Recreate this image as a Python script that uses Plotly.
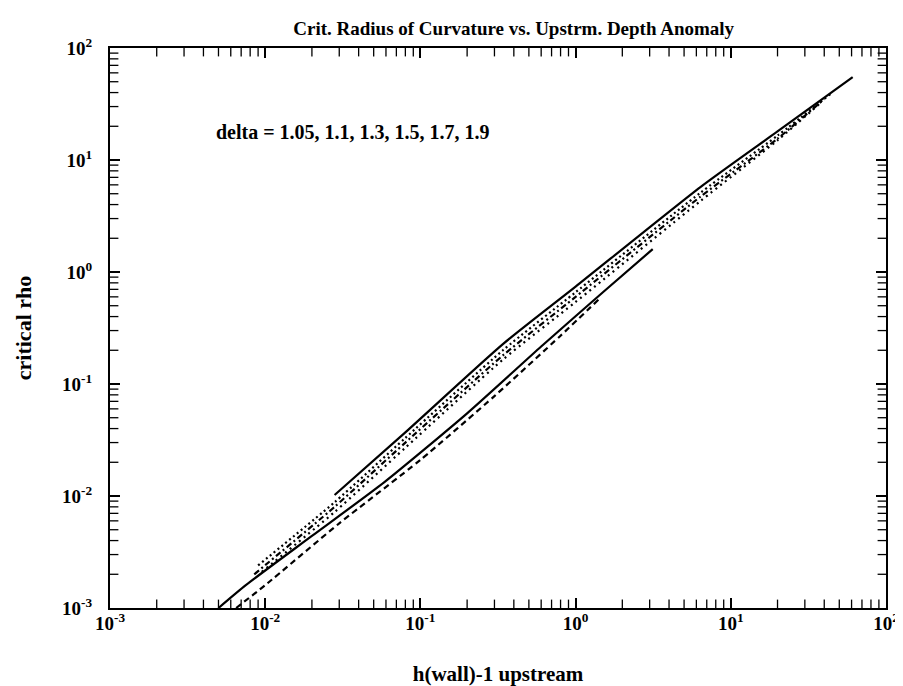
import plotly.graph_objects as go

# delta = 1.05 (lower solid)
x_d105 = [0.005, 0.0075, 0.02, 0.0586, 0.2, 0.6, 1.5, 3.14]
y_d105 = [0.001, 0.0016, 0.0044, 0.0133, 0.0547, 0.216, 0.66, 1.6]
# delta = 1.1 (lower dashed)
x_d11 = [0.0065, 0.01, 0.03, 0.1, 0.3, 0.8, 1.43]
y_d11 = [0.001, 0.0016, 0.0057, 0.021, 0.078, 0.27, 0.58]
# delta = 1.3
x_d13 = [0.0095, 0.028, 0.08, 0.34, 1.0, 6.37, 20, 38]
y_d13 = [0.0021, 0.0072, 0.027, 0.165, 0.54, 4.3, 15.0, 32.5]
# delta = 1.5
x_d15 = [0.0085, 0.028, 0.08, 0.34, 1.0, 6.37, 20, 40]
y_d15 = [0.0020, 0.0080, 0.030, 0.18, 0.60, 4.7, 15.5, 35]
# delta = 1.7
x_d17 = [0.009, 0.028, 0.08, 0.34, 1.0, 6.37, 20, 45]
y_d17 = [0.0024, 0.0088, 0.033, 0.20, 0.66, 5.1, 16.5, 40]
# delta = 1.9
x_d19 = [0.028, 0.08, 0.34, 1.0, 6.37, 20, 61]
y_d19 = [0.0102, 0.037, 0.227, 0.74, 5.73, 18, 55]

major_vals = [1e-3, 1e-2, 1e-1, 1, 10, 100]
major_text = ["10<sup>-3</sup>", "10<sup>-2</sup>", "10<sup>-1</sup>",
              "10<sup>0</sup>", "10<sup>1</sup>", "10<sup>2</sup>"]
minor_mult = [2, 3, 4, 5, 6, 7, 8, 9]
minor_vals = [m * d for d in major_vals[:-1] for m in minor_mult]
axis_lo, axis_hi = major_vals[0], major_vals[-1]

series = [
    (x_d105, y_d105, "solid"),
    (x_d11, y_d11, "6px,4px"),
    (x_d13, y_d13, "2px,4px"),
    (x_d15, y_d15, "6px,3px,2px,3px"),
    (x_d17, y_d17, "2px,3px"),
    (x_d19, y_d19, "solid"),
]

fig = go.Figure()
for xs, ys, dash in series:
    fig.add_trace(go.Scatter(x=xs, y=ys, mode="lines",
                             line=dict(color="black", width=2.2, dash=dash,
                                       shape="spline", smoothing=0.6),
                             showlegend=False))

# minor log ticks on all four sides (markers clipped by the plot area -> inside ticks)
n = len(minor_vals)
tick_marker_v = dict(symbol="line-ns", size=12, line=dict(color="black", width=1.3))
tick_marker_h = dict(symbol="line-ew", size=12, line=dict(color="black", width=1.3))
fig.add_trace(go.Scatter(x=minor_vals + minor_vals, y=[axis_lo] * n + [axis_hi] * n,
                         mode="markers", marker=tick_marker_v, cliponaxis=True,
                         showlegend=False, hoverinfo="skip"))
fig.add_trace(go.Scatter(x=[axis_lo] * n + [axis_hi] * n, y=minor_vals + minor_vals,
                         mode="markers", marker=tick_marker_h, cliponaxis=True,
                         showlegend=False, hoverinfo="skip"))

font_family = "Liberation Serif, Times New Roman, serif"
axis_common = dict(
    type="log", showgrid=False, zeroline=False, range=[-3, 2],
    showline=True, linecolor="black", linewidth=2, mirror="allticks",
    ticks="inside", ticklen=10, tickwidth=1.5, tickcolor="black",
    tickmode="array", tickvals=major_vals, ticktext=major_text,
    tickfont=dict(family=font_family, size=19, color="black", weight="bold"),
)

fig.update_layout(
    width=903, height=686,
    paper_bgcolor="white", plot_bgcolor="white",
    margin=dict(l=102, r=22, t=40, b=83),
    title=dict(text="Crit. Radius of Curvature vs. Upstrm. Depth Anomaly",
               x=0.56, xanchor="center", y=0.97, yanchor="middle",
               font=dict(family=font_family, size=19, color="black", weight="bold")),
    xaxis=dict(axis_common, ticklabelstandoff=-3,
               title=dict(text="h(wall)-1 upstream", standoff=34,
                          font=dict(family=font_family, size=21, color="black", weight="bold"))),
    yaxis=dict(axis_common, ticklabelstandoff=12,
               title=dict(text="critical rho", standoff=24,
                          font=dict(family=font_family, size=22, color="black", weight="bold"))),
    annotations=[dict(x=-2.33, y=1.246, xref="x", yref="y",
                      text="delta = 1.05, 1.1, 1.3, 1.5, 1.7, 1.9",
                      showarrow=False, xanchor="left", yanchor="middle",
                      font=dict(family=font_family, size=20, color="black", weight="bold"))],
)

fig.write_html("out.html")
